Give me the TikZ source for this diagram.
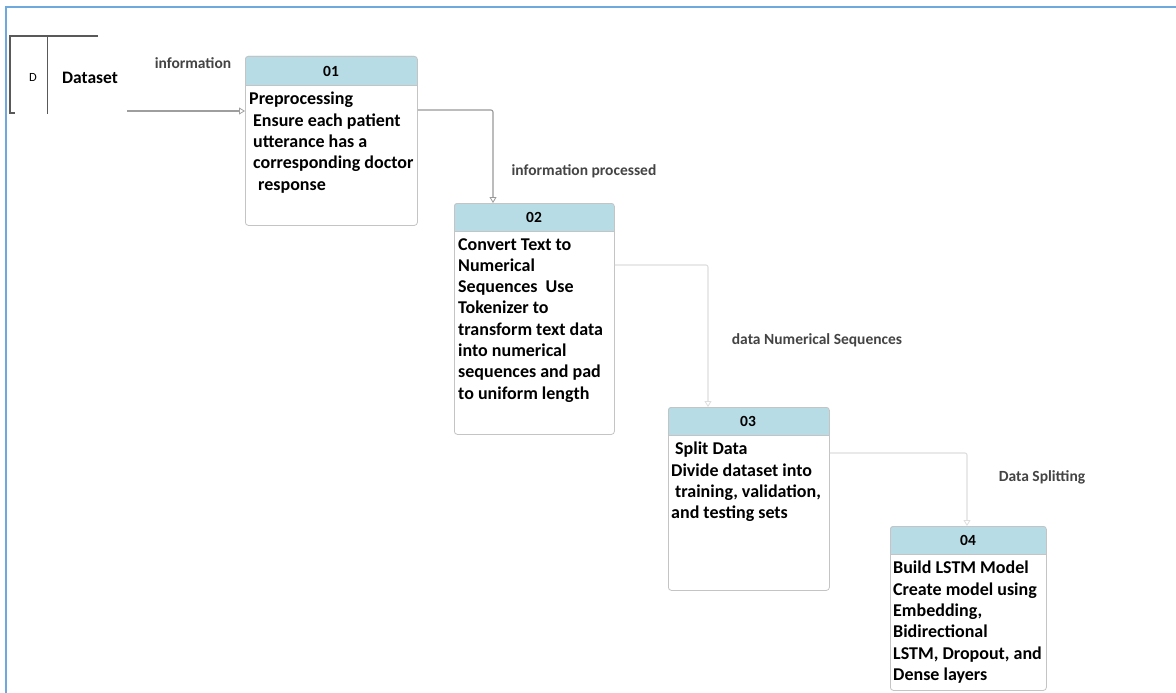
\documentclass[tikz,border=0pt]{standalone}
\usepackage{fontspec}
\setmainfont{Carlito}
\usetikzlibrary{arrows.meta,calc}
\definecolor{hdrblue}{HTML}{B7DCE6}
\definecolor{frameblue}{HTML}{6FA8DC}
\definecolor{boxline}{HTML}{C4C4C4}
\definecolor{lbl}{HTML}{444444}
\begin{document}
\begin{tikzpicture}[x=1pt,y=-1pt,
  procbox/.style={draw=boxline, line width=0.8pt, rounded corners=3pt, fill=none, inner sep=0pt},
  hdrtext/.style={font=\bfseries\fontsize{15.5}{16}\selectfont, inner sep=0pt},
  bodytext/.style={font=\bfseries\fontsize{18}{21.3}\selectfont, align=left, anchor=north west, inner sep=0pt},
  flowlbl/.style={font=\bfseries\fontsize{15.5}{16}\selectfont, text=lbl, inner sep=0pt},
  arrdark/.style={draw=black!38, line width=1.3pt, -{Triangle[open,width=7pt,length=6pt,line width=0.8pt]}},
  arrmid/.style={draw=black!40, line width=1.1pt, -{Triangle[open,width=7pt,length=6pt,line width=0.8pt]}},
  arrlight/.style={draw=black!13, line width=1.1pt, -{Triangle[open,width=7pt,length=6pt,line width=0.8pt]}},
]
\useasboundingbox (0,0) rectangle (1176,693);
\fill[white] (0,0) rectangle (1176,693);
% frame
\draw[frameblue, line width=1.8pt] (6,693) -- (6,7) -- (1176,7);

% data store
\draw[black!65, line width=1.2pt] (98,36) -- (10,36) -- (10,113) -- (15,113);
\draw[black!65, line width=1pt] (47,36) -- (47,114);
\node[font=\fontsize{12.5}{14}\selectfont, inner sep=0pt] (dsd) at (33,77) {D};
\node[font=\bfseries\fontsize{17.5}{18}\selectfont, inner sep=0pt] (dsn) at (90,78) {Dataset};
\coordinate (dsout) at (127,111);

% Box 01
\fill[hdrblue] (245,85) [rounded corners=3pt] -- (245,56) -- (417,56) [sharp corners] -- (417,85) -- cycle;
\draw[boxline] (245,85) -- (417,85);
\node[procbox, minimum width=172pt, minimum height=169pt, anchor=north west] (b1) at (245,56) {};
\node[hdrtext] (h1) at (331,71) {01};
\node[bodytext] (t1) at (249,92) {Preprocessing\\\hspace*{0.22em}Ensure each patient\\\hspace*{0.22em}utterance has a\\\hspace*{0.22em}corresponding doctor\\\hspace*{0.5em}response};

% Box 02
\fill[hdrblue] (454,231) [rounded corners=3pt] -- (454,203) -- (614,203) [sharp corners] -- (614,231) -- cycle;
\draw[boxline] (454,231) -- (614,231);
\node[procbox, minimum width=160pt, minimum height=231pt, anchor=north west] (b2) at (454,203) {};
\node[hdrtext] (h2) at (534,217) {02};
\node[bodytext] (t2) at (458,238) {Convert Text to\\Numerical\\Sequences\ \ Use\\Tokenizer to\\transform text data\\into numerical\\sequences and pad\\to uniform length};

% Box 03
\fill[hdrblue] (668,435) [rounded corners=3pt] -- (668,407) -- (829,407) [sharp corners] -- (829,435) -- cycle;
\draw[boxline] (668,435) -- (829,435);
\node[procbox, minimum width=161pt, minimum height=183pt, anchor=north west] (b3) at (668,407) {};
\node[hdrtext] (h3) at (748,421) {03};
\node[bodytext] (t3) at (671,442) {\hspace*{0.22em}Split Data\\Divide dataset into\\\hspace*{0.22em}training, validation,\\and testing sets};

% Box 04
\fill[hdrblue] (890,554) [rounded corners=3pt] -- (890,526) -- (1046,526) [sharp corners] -- (1046,554) -- cycle;
\draw[boxline] (890,554) -- (1046,554);
\node[procbox, minimum width=156pt, minimum height=164pt, anchor=north west] (b4) at (890,526) {};
\node[hdrtext] (h4) at (968,540) {04};
\node[bodytext] (t4) at (893,561) {Build LSTM Model\\Create model using\\Embedding,\\Bidirectional\\LSTM, Dropout, and\\Dense layers};

% connectors
\draw[arrdark] (dsout) -- ([yshift=-55pt]b1.north west);
\draw[arrmid, rounded corners=2pt] ([yshift=-54pt]b1.north east) -| ([xshift=39pt]b2.north west);
\draw[arrlight, rounded corners=2pt] ([yshift=-62pt]b2.north east) -| ([xshift=40pt]b3.north west);
\draw[arrlight, rounded corners=2pt] ([yshift=-46pt]b3.north east) -| ([xshift=77pt]b4.north west);

% labels
\node[flowlbl] (l1) at (193,63) {information};
\node[flowlbl] (l2) at (584,171) {information processed};
\node[flowlbl] (l3) at (817,340) {data Numerical Sequences};
\node[flowlbl] (l4) at (1042,477) {Data Splitting};
\end{tikzpicture}
\end{document}
